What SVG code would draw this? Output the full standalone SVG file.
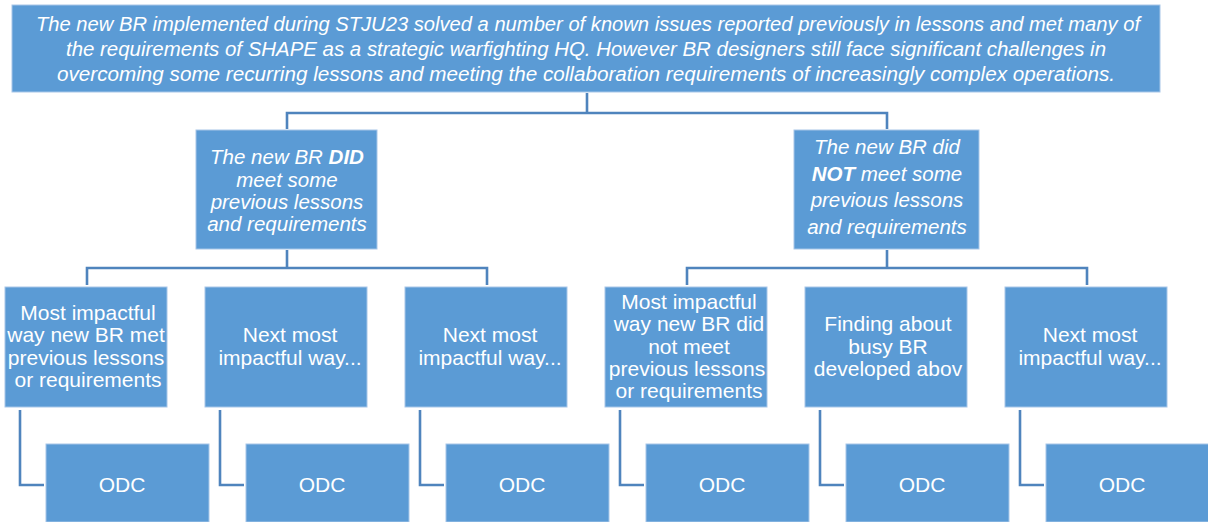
<svg xmlns="http://www.w3.org/2000/svg" width="1208" height="522" viewBox="0 0 1208 522">
<style>
.box{fill:#5b9bd5;stroke:#a7c6e8;stroke-width:1}
.t{font-family:"Liberation Sans",Arial,sans-serif;fill:#ffffff;text-anchor:middle}
.it{font-style:italic}
.top{font-size:19.5px}
.m{font-size:20.5px}
.l{font-size:21px}
.c{fill:none;stroke:#4f84bd;stroke-width:2.6}
</style>
<rect width="1208" height="522" fill="#ffffff"/>
<g id="connectors">
<path class="c" d="M587 93V113M287 129V113H887V129"/>
<path class="c" d="M287 250V268M87 285V268H487V285"/>
<path class="c" d="M887 250V268M687 285V268H1087V285"/>
<path class="c" d="M20 410V485H44"/>
<path class="c" d="M220 410V485H244"/>
<path class="c" d="M420 410V485H444"/>
<path class="c" d="M620 410V485H644"/>
<path class="c" d="M820 410V485H844"/>
<path class="c" d="M1020 410V485H1044"/>
</g>
<g id="root">
<rect class="box" x="12" y="5" width="1148" height="87"/>
<text class="t it top" x="588" y="31" textLength="1104" lengthAdjust="spacingAndGlyphs">The new BR implemented during STJU23 solved a number of known issues reported previously in lessons and met many of</text>
<text class="t it top" x="586" y="56" textLength="1040" lengthAdjust="spacingAndGlyphs">the requirements of SHAPE as a strategic warfighting HQ. However BR designers still face significant challenges in</text>
<text class="t it top" x="586" y="81" textLength="1058" lengthAdjust="spacingAndGlyphs">overcoming some recurring lessons and meeting the collaboration requirements of increasingly complex operations.</text>
</g>
<g id="did">
<rect class="box" x="196" y="130" width="181" height="119"/>
<text class="t it m" x="287" y="164">The new BR <tspan font-weight="bold">DID</tspan></text>
<text class="t it m" x="287" y="187">meet some</text>
<text class="t it m" x="287" y="209">previous lessons</text>
<text class="t it m" x="287" y="231">and requirements</text>
</g>
<g id="didnot">
<rect class="box" x="794" y="130" width="185" height="119"/>
<text class="t it m" x="887" y="154">The new BR did</text>
<text class="t it m" x="887" y="181"><tspan font-weight="bold">NOT</tspan> meet some</text>
<text class="t it m" x="887" y="207">previous lessons</text>
<text class="t it m" x="887" y="234">and requirements</text>
</g>
<g id="n1">
<rect class="box" x="5" y="287" width="162" height="120"/>
<text class="t l" x="88" y="320">Most impactful</text>
<text class="t l" x="86" y="342">way new BR met</text>
<text class="t l" x="86" y="365">previous lessons</text>
<text class="t l" x="88" y="387">or requirements</text>
</g>
<g id="n2">
<rect class="box" x="205" y="287" width="162" height="120"/>
<text class="t l" x="290" y="342">Next most</text>
<text class="t l" x="290" y="365">impactful way...</text>
</g>
<g id="n3">
<rect class="box" x="405" y="287" width="162" height="120"/>
<text class="t l" x="490" y="342">Next most</text>
<text class="t l" x="490" y="365">impactful way...</text>
</g>
<g id="n4">
<rect class="box" x="605" y="287" width="162" height="120"/>
<text class="t l" x="689" y="309">Most impactful</text>
<text class="t l" x="689" y="331">way new BR did</text>
<text class="t l" x="689" y="354">not meet</text>
<text class="t l" x="687" y="376">previous lessons</text>
<text class="t l" x="689" y="398">or requirements</text>
</g>
<g id="n5">
<rect class="box" x="805" y="287" width="162" height="120"/>
<text class="t l" x="888" y="331">Finding about</text>
<text class="t l" x="888" y="354">busy BR</text>
<text class="t l" x="888" y="376">developed abov</text>
</g>
<g id="n6">
<rect class="box" x="1005" y="287" width="162" height="120"/>
<text class="t l" x="1090" y="342">Next most</text>
<text class="t l" x="1090" y="365">impactful way...</text>
</g>
<g id="odc1"><rect class="box" x="46" y="444" width="163" height="78"/><text class="t l" x="122" y="492">ODC</text></g>
<g id="odc2"><rect class="box" x="246" y="444" width="163" height="78"/><text class="t l" x="322" y="492">ODC</text></g>
<g id="odc3"><rect class="box" x="446" y="444" width="163" height="78"/><text class="t l" x="522" y="492">ODC</text></g>
<g id="odc4"><rect class="box" x="646" y="444" width="163" height="78"/><text class="t l" x="722" y="492">ODC</text></g>
<g id="odc5"><rect class="box" x="846" y="444" width="163" height="78"/><text class="t l" x="922" y="492">ODC</text></g>
<g id="odc6"><rect class="box" x="1046" y="444" width="163" height="78"/><text class="t l" x="1122" y="492">ODC</text></g>
</svg>
